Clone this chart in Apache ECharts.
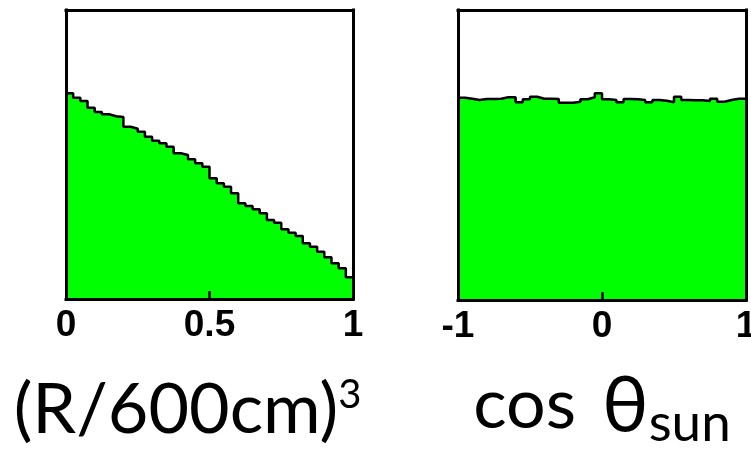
<!DOCTYPE html>
<html>
<head>
<meta charset="utf-8">
<script src="https://cdn.jsdelivr.net/npm/echarts@6/dist/echarts.min.js"></script>
<style>
html,body{margin:0;padding:0;background:#fff;}
#chart{width:751px;height:454px;}
</style>
</head>
<body>
<div id="chart"></div>
<script>
// Histogram contents (arbitrary units), 40 equal-width bins each
const radiusBins = [205.7, 201.3, 198, 191.3, 187, 184.7, 182.7, 182, 172.3, 170.3,
  167.3, 162.3, 158.3, 155.7, 152.3, 145.7, 144, 139.7, 135.7, 132.3,
  120.7, 115.7, 112.3, 105.7, 95.7, 93, 89.7, 85.7, 79, 76.3,
  69.7, 66.3, 63, 55.7, 52.3, 47.3, 41.7, 35.7, 30.7, 21.7];
const cosSunBins = [202.3, 201.3, 200, 201, 201, 201.3, 202.7, 202.7, 197.7, 200.7,
  203.3, 201.3, 201.3, 201, 197.3, 197.3, 198.3, 200.7, 202.7, 206.7,
  200.7, 200, 197.7, 201, 200.7, 200, 197.7, 200, 199.3, 197.7,
  203.3, 200, 199.7, 199.7, 199, 201.3, 198.3, 200, 201.3, 201.3];
const radiusRange = [0, 1];
const cosSunRange = [-1, 1];
const radiusTicks = ['0', '0.5', '1'];
const cosSunTicks = ['-1', '0', '1'];
const radiusYMax = 289;
const cosSunYMax = 290;

function stepData(vals, lo, hi) {
  const w = (hi - lo) / vals.length;
  const pts = vals.map((v, i) => [lo + i * w, v]);
  pts.push([hi, vals[vals.length - 1]]);
  return pts;
}

const frameLine = {show: true, onZero: false, lineStyle: {color: '#000', width: 3, cap: 'square'}};
const labelStyle = {fontSize: 37, fontWeight: 'bold', fontFamily: 'Liberation Sans', color: '#000', margin: 8};

function bottomAxis(grid, range, interval, ticks, name, rich, pad, gap) {
  return {
    type: 'value', gridIndex: grid, position: 'bottom', min: range[0], max: range[1], interval: interval,
    z: 10, axisLine: frameLine, splitLine: {show: false},
    axisTick: {show: true, inside: true, length: 8, lineStyle: {color: '#000', width: 2.5}},
    axisLabel: Object.assign({}, labelStyle, {
      showMinLabel: true, showMaxLabel: true,
      formatter: function (v) {
        const i = Math.round((v - range[0]) / interval);
        return ticks[i] !== undefined ? ticks[i] : '';
      }
    }),
    name: name, nameLocation: 'middle', nameGap: gap,
    nameTextStyle: {rich: rich, padding: pad}
  };
}
function topAxis(grid, range) {
  return {type: 'value', gridIndex: grid, position: 'top', min: range[0], max: range[1], z: 10,
    axisLine: frameLine, axisTick: {show: false}, axisLabel: {show: false}, splitLine: {show: false}};
}
function sideAxis(grid, pos, max) {
  return {type: 'value', gridIndex: grid, position: pos, min: 0, max: max, z: 10,
    axisLine: frameLine, axisTick: {show: false}, axisLabel: {show: false}, splitLine: {show: false}};
}

const mainFont = {fontFamily: 'Lato', fontSize: 70, color: '#000', verticalAlign: 'bottom'};
const leftRich = {
  a: Object.assign({}, mainFont),
  s: {fontFamily: 'Lato', fontSize: 40, color: '#000', verticalAlign: 'top'}
};
const rightRich = {
  a: Object.assign({}, mainFont),
  g: {fontFamily: 'Lato', fontSize: 70, width: 26, color: '#000', verticalAlign: 'bottom'},
  t: {fontFamily: 'Lato', fontSize: 78, color: '#000', verticalAlign: 'bottom', padding: [0, 0, -6, 0]},
  b: {fontFamily: 'Lato', fontSize: 53, color: '#000', verticalAlign: 'bottom', padding: [0, 0, -10, 0]}
};

const chart = echarts.init(document.getElementById('chart'));
chart.setOption({
  animation: false,
  backgroundColor: '#fff',
  grid: [
    {left: 66, top: 10, width: 287, height: 289, show: false, containLabel: false, outerBoundsMode: 'none'},
    {left: 458, top: 10, width: 288, height: 290, show: false, containLabel: false, outerBoundsMode: 'none'}
  ],
  xAxis: [
    bottomAxis(0, radiusRange, 0.5, radiusTicks, '{a|(R/600cm)}{s|3}', leftRich, [0, 44, 0, 0], 76),
    topAxis(0, radiusRange),
    bottomAxis(1, cosSunRange, 1, cosSunTicks, '{a|cos}{g| }{t|θ}{b|sun}', rightRich, [0, 0, 0, 0], 68),
    topAxis(1, cosSunRange)
  ],
  yAxis: [
    sideAxis(0, 'left', radiusYMax),
    sideAxis(0, 'right', radiusYMax),
    sideAxis(1, 'left', cosSunYMax),
    sideAxis(1, 'right', cosSunYMax)
  ],
  series: [
    {type: 'line', xAxisIndex: 0, yAxisIndex: 0, step: 'end', symbol: 'none',
      data: stepData(radiusBins, radiusRange[0], radiusRange[1]),
      lineStyle: {color: '#000', width: 2.5}, areaStyle: {color: '#00ff00', opacity: 1}},
    {type: 'line', xAxisIndex: 2, yAxisIndex: 2, step: 'end', symbol: 'none',
      data: stepData(cosSunBins, cosSunRange[0], cosSunRange[1]),
      lineStyle: {color: '#000', width: 2.5}, areaStyle: {color: '#00ff00', opacity: 1}}
  ]
});
</script>
</body>
</html>
